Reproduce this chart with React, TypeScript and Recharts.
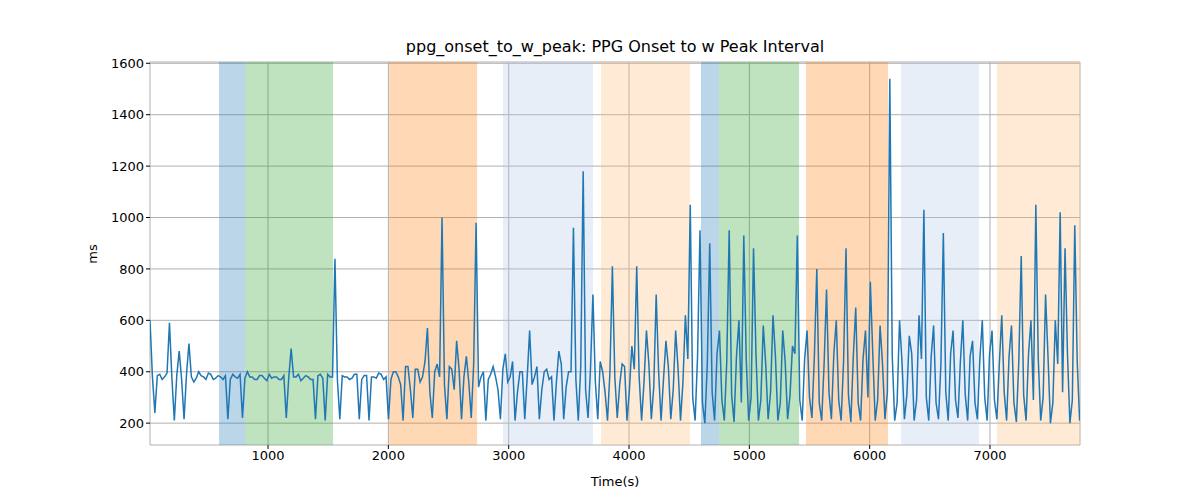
import React from 'react';
import {
  LineChart,
  Line,
  XAxis,
  YAxis,
  CartesianGrid,
  ReferenceArea,
} from 'recharts';

// main samples every ~40 s, with mid samples halfway between them
const startTime = 19;
const stepSeconds = 40.45;

const intervalValues = [
  600, 240, 390, 380, 590, 210, 480, 215, 510, 360,
  400, 380, 395, 370, 385, 370, 215, 390, 375, 220,
  400, 380, 370, 385, 365, 375, 380, 370, 220, 490,
  380, 365, 385, 370, 215, 390, 210, 380, 840, 215,
  380, 370, 390, 215, 385, 210, 380, 395, 370, 215,
  400, 380, 210, 420, 220, 410, 380, 570, 220, 430,
  1000, 215, 410, 520, 215, 460, 220, 980, 380, 210,
  390, 380, 215, 470, 380, 210, 400, 215, 560, 380,
  215, 400, 370, 210, 480, 215, 400, 960, 210, 1180,
  220, 700, 215, 400, 210, 810, 220, 430, 210, 500,
  810, 210, 560, 215, 700, 210, 520, 215, 560, 210,
  620, 1050, 210, 950, 200, 900, 210, 560, 210, 950,
  205, 600, 930, 210, 880, 210, 580, 215, 620, 210,
  560, 215, 500, 930, 210, 560, 220, 800, 210, 720,
  215, 600, 210, 880, 205, 650, 210, 560, 750, 210,
  580, 215, 1540, 210, 600, 215, 540, 210, 620, 1030,
  210, 580, 215, 940, 210, 560, 220, 600, 210, 520,
  215, 600, 210, 560, 215, 620, 210, 580, 205, 850,
  210, 600, 1050, 210, 700, 200, 600, 1020, 880, 200,
  970, 210, 820, 920,
];

const midValues = [
  380, 385, 370, 395, 375, 385, 370, 390, 380, 375,
  385, 370, 390, 375, 380, 385, 370, 380, 390, 375,
  380, 370, 385, 375, 390, 380, 370, 385, 375, 380,
  390, 375, 380, 370, 385, 375, 390, 380, 370, 385,
  380, 375, 390, 370, 385, 380, 375, 390, 380, 370,
  400, 350, 420, 330, 410, 360, 440, 320, 400, 380,
  350, 420, 330, 410, 380, 360, 430, 340, 400, 370,
  420, 330, 410, 360, 440, 320, 400, 380, 350, 420,
  330, 410, 380, 360, 430, 340, 400, 370, 420, 330,
  410, 360, 440, 320, 400, 380, 350, 420, 330, 410,
  380, 360, 430, 340, 400, 370, 420, 330, 410, 360,
  450, 300, 460, 280, 430, 320, 470, 290, 440, 310,
  460, 280, 450, 300, 470, 290, 430, 320, 460, 280,
  440, 310, 470, 290, 450, 300, 460, 280, 430, 320,
  470, 290, 440, 310, 460, 280, 450, 300, 470, 290,
  430, 320, 460, 280, 440, 310, 470, 290, 450, 300,
  460, 280, 430, 320, 470, 290, 440, 310, 460, 280,
  450, 300, 470, 290, 430, 320, 460, 280, 440, 310,
  470, 290, 450, 300, 460, 280, 430, 320, 470, 290,
  440, 310, 460, 280,
];

// shaded segments [start, end, colour]
const bandStarts = [593, 809, 2006, 2953, 3767, 4598, 4748, 5471, 6261, 7058];
const bandEnds = [809, 1540, 2737, 3701, 4507, 4748, 5413, 6153, 6909, 7748];
const bandColors = [
  '#1f77b4', '#2ca02c', '#ff7f0e', '#aec7e8', '#ffbb78',
  '#1f77b4', '#2ca02c', '#ff7f0e', '#aec7e8', '#ffbb78',
];

const xTicks = [1000, 2000, 3000, 4000, 5000, 6000, 7000];
const yTicks = [200, 400, 600, 800, 1000, 1200, 1400, 1600];

const data: { t: number; v: number }[] = [];
intervalValues.forEach((v, i) => {
  const t = startTime + i * stepSeconds;
  data.push({ t, v });
  if (i < midValues.length) data.push({ t: t + stepSeconds / 2, v: midValues[i] });
});

const font = '"DejaVu Sans", sans-serif';

export default function App() {
  return (
    <div style={{ position: 'absolute', left: 0, top: 0, width: 1200, height: 500, background: '#fff' }}>
      <LineChart
        width={1200}
        height={500}
        data={data}
        margin={{ top: 62, right: 120, bottom: 15, left: 90 }}
        style={{ fontFamily: font }}
      >
        <text x={615} y={52} textAnchor="middle" fontSize={16} fill="#000">
          ppg_onset_to_w_peak: PPG Onset to w Peak Interval
        </text>
        <text x={97} y={254} textAnchor="middle" fontSize={13} fill="#000" transform="rotate(-90 97 254)">
          ms
        </text>
        <text x={615} y={486} textAnchor="middle" fontSize={13} fill="#000">
          Time(s)
        </text>
        {bandStarts.map((s, i) => (
          <ReferenceArea key={i} x1={s} x2={bandEnds[i]} fill={bandColors[i]} fillOpacity={0.3} stroke="none" ifOverflow="hidden" />
        ))}
        <CartesianGrid stroke="#b0b0b0" strokeWidth={1} />
        <XAxis
          dataKey="t"
          type="number"
          domain={[19, 7748]}
          ticks={xTicks}
          allowDataOverflow
          height={40}
          tick={{ fontSize: 13, fill: '#000' }}
          tickLine={{ stroke: '#000' }}
          axisLine={false}
          tickSize={4}
        />
        <YAxis
          type="number"
          domain={[115, 1605]}
          ticks={yTicks}
          allowDataOverflow
          width={60}
          tick={{ fontSize: 13, fill: '#000' }}
          tickLine={{ stroke: '#000' }}
          axisLine={false}
          tickSize={4}
        />
        <Line
          dataKey="v"
          type="linear"
          stroke="#1f77b4"
          strokeWidth={1.5}
          dot={false}
          isAnimationActive={false}
        />
        <ReferenceArea fill="none" stroke="#000" strokeWidth={1} ifOverflow="hidden" />
      </LineChart>
    </div>
  );
}
